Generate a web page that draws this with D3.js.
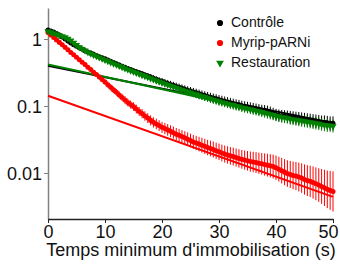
<!DOCTYPE html>
<html><head><meta charset="utf-8">
<script src="https://cdn.jsdelivr.net/npm/d3@7"></script>
<style>body{margin:0;background:#fff}svg{display:block;font-family:"Liberation Sans",Arial,sans-serif}</style>
</head><body><svg id="c" width="340" height="265"></svg>
<script>
const times = d3.range(0, 50.001, 0.5);
const seriesNames = ["Contrôle", "Myrip-pARNi", "Restauration"];
const controle = [1.36,1.32,1.27,1.21,1.15,1.07,1.0,0.93,0.87,0.82,0.78,0.74,0.71,0.67,0.64,0.615,0.59,0.565,0.545,0.525,0.505,
0.485,0.465,0.445,0.428,0.41,0.393,0.378,0.364,0.35,0.337,0.325,0.313,0.302,0.291,0.281,0.27,0.26,0.25,0.241,0.233,
0.225,0.217,0.21,0.203,0.196,0.19,0.184,0.178,0.172,0.167,0.162,0.157,0.152,0.147,0.143,0.139,0.135,0.131,0.128,0.124,
0.121,0.118,0.115,0.112,0.109,0.106,0.104,0.101,0.099,0.097,0.095,0.093,0.091,0.089,0.087,0.086,0.084,0.081,0.077,0.074,
0.072,0.071,0.07,0.069,0.068,0.067,0.066,0.065,0.064,0.063,0.062,0.061,0.06,0.059,0.058,0.057,0.057,0.056,0.055,0.055];
const myrip = [1.25,1.15,1.05,0.97,0.89,0.82,0.75,0.69,0.63,0.58,0.535,0.49,0.45,0.415,0.38,0.35,0.32,0.295,0.27,0.248,0.228,
0.208,0.19,0.174,0.16,0.146,0.134,0.123,0.113,0.105,0.098,0.09,0.083,0.077,0.071,0.066,0.061,0.057,0.054,0.051,0.048,
0.046,0.044,0.042,0.04,0.038,0.0365,0.035,0.0335,0.032,0.0305,0.029,0.028,0.027,0.026,0.025,0.024,0.0232,0.0224,0.0215,0.0207,
0.0199,0.0192,0.0186,0.018,0.0176,0.017,0.0165,0.016,0.0156,0.0152,0.0148,0.0146,0.0143,0.014,0.0137,0.0134,0.0131,0.0128,0.0125,0.012,
0.0114,0.0108,0.0103,0.0098,0.0095,0.0092,0.009,0.0087,0.0084,0.008,0.0077,0.0075,0.0072,0.0069,0.0066,0.0063,0.006,0.0057,0.0055,0.0053];
const restauration = [1.30,1.26,1.22,1.18,1.14,1.1,1.06,1.01,0.95,0.88,0.81,0.75,0.71,0.67,0.635,0.605,0.578,0.553,0.53,0.508,0.487,
0.467,0.448,0.43,0.413,0.396,0.38,0.365,0.351,0.338,0.325,0.313,0.301,0.29,0.279,0.269,0.259,0.249,0.24,0.231,0.223,
0.215,0.208,0.201,0.194,0.187,0.181,0.175,0.169,0.164,0.159,0.154,0.149,0.144,0.14,0.136,0.132,0.128,0.124,0.121,0.117,
0.114,0.111,0.108,0.105,0.103,0.1,0.098,0.095,0.093,0.091,0.089,0.087,0.085,0.083,0.081,0.079,0.077,0.075,0.073,0.071,
0.07,0.068,0.067,0.066,0.064,0.063,0.062,0.061,0.06,0.059,0.058,0.057,0.056,0.055,0.054,0.053,0.052,0.051,0.051,0.05];
// error bars: log10 half-width (decades)
const controleErr = [0.01,0.01,0.012,0.012,0.013,0.014,0.015,0.016,0.017,0.018,0.019,0.02,0.021,0.022,0.022,0.023,0.024,0.025,0.026,0.027,0.028,
0.029,0.03,0.031,0.032,0.033,0.034,0.035,0.036,0.037,0.038,0.04,0.041,0.042,0.043,0.044,0.045,0.046,0.047,0.048,0.05,
0.051,0.052,0.053,0.054,0.055,0.056,0.057,0.058,0.059,0.06,0.061,0.062,0.063,0.064,0.065,0.066,0.066,0.067,0.068,0.069,
0.07,0.07,0.071,0.072,0.072,0.073,0.074,0.074,0.075,0.076,0.076,0.077,0.078,0.078,0.079,0.08,0.081,0.083,0.086,0.088,
0.09,0.091,0.092,0.093,0.094,0.095,0.096,0.097,0.098,0.098,0.099,0.1,0.1,0.101,0.102,0.102,0.103,0.104,0.104,0.105];
const myripErr = [0.01,0.012,0.014,0.015,0.017,0.018,0.02,0.021,0.022,0.024,0.025,0.026,0.028,0.03,0.031,0.033,0.035,0.037,0.039,0.041,0.043,
0.045,0.047,0.049,0.051,0.053,0.055,0.057,0.059,0.061,0.063,0.065,0.067,0.069,0.071,0.073,0.075,0.077,0.079,0.081,0.083,
0.085,0.087,0.089,0.091,0.093,0.095,0.097,0.099,0.101,0.103,0.105,0.107,0.109,0.111,0.113,0.115,0.117,0.119,0.121,0.123,
0.125,0.127,0.129,0.131,0.133,0.135,0.137,0.14,0.143,0.146,0.15,0.153,0.156,0.159,0.162,0.166,0.17,0.174,0.178,0.182,
0.186,0.19,0.194,0.198,0.202,0.206,0.21,0.215,0.22,0.225,0.23,0.235,0.24,0.245,0.25,0.26,0.27,0.28,0.29,0.3];
const restaurationErr = [0.01,0.01,0.011,0.012,0.012,0.013,0.014,0.015,0.015,0.016,0.017,0.018,0.019,0.019,0.02,0.021,0.022,0.022,0.023,0.024,0.025,
0.026,0.027,0.028,0.029,0.03,0.031,0.032,0.033,0.034,0.035,0.036,0.037,0.038,0.039,0.04,0.041,0.042,0.043,0.044,0.045,
0.046,0.047,0.048,0.049,0.05,0.051,0.052,0.053,0.054,0.055,0.056,0.056,0.057,0.058,0.059,0.06,0.06,0.061,0.062,0.063,
0.063,0.064,0.065,0.065,0.066,0.067,0.067,0.068,0.069,0.069,0.07,0.071,0.071,0.072,0.073,0.073,0.074,0.075,0.076,0.078,
0.08,0.081,0.082,0.083,0.084,0.085,0.086,0.087,0.088,0.088,0.089,0.09,0.091,0.091,0.092,0.093,0.093,0.094,0.095,0.095];
// exponential fits: value at t=0 and t=50
const fitTimes = [0, 50];
const controleFit = [0.40, 0.056];
const myripFit = [0.142, 0.0044];
const restaurationFit = [0.415, 0.050];
const xTicks = [0, 10, 20, 30, 40, 50];
const yTicks = [0.01, 0.1, 1];
const yTickLabels = ["0.01", "0.1", "1"];
const xTitle = "Temps minimum d'immobilisation (s)";

const svg = d3.select("#c");
const x = d3.scaleLinear().domain([0, 50]).range([48, 333]);
const y0 = d3.scaleLog().domain([0.01, 1]).range([173, 39]);
const y = d3.scaleLog().domain([y0.invert(219), y0.invert(8)]).range([219, 8]);

const series = [
  {name: seriesNames[0], vals: controle, err: controleErr, fit: controleFit, color: "#000000", sym: "circle"},
  {name: seriesNames[1], vals: myrip, err: myripErr, fit: myripFit, color: "#ff0000", sym: "circle"},
  {name: seriesNames[2], vals: restauration, err: restaurationErr, fit: restaurationFit, color: "#008000", sym: "tri"}
];

// axes
const yAxis = svg.append("g").attr("transform", "translate(48,0)")
  .call(d3.axisLeft(y).tickValues(yTicks).tickFormat((d, i) => yTickLabels[i]).tickSize(4).tickSizeOuter(0));
yAxis.select(".domain").attr("stroke", "#808080").attr("stroke-width", 1.5);
yAxis.selectAll(".tick line").attr("stroke", "#808080");
yAxis.selectAll(".tick text").attr("font-size", 18).attr("fill", "#111").attr("x", -6).attr("dy", "0.35em")
  .style("font-family", "Liberation Sans, Arial, sans-serif");

const xAxis = svg.append("g").attr("transform", "translate(0,219)")
  .call(d3.axisBottom(x).tickValues(xTicks).tickFormat(d3.format("d")).tickSize(4).tickSizeOuter(0));
xAxis.select(".domain").attr("stroke", "#222").attr("stroke-width", 1.5);
xAxis.selectAll(".tick line").attr("stroke", "#222");
xAxis.selectAll(".tick text").attr("font-size", 18).attr("fill", "#111").attr("y", 6)
  .style("font-family", "Liberation Sans, Arial, sans-serif");
xAxis.selectAll(".tick text").filter(d => d === 50).attr("text-anchor", "end").attr("x", 5);

svg.append("text").attr("x", 191).attr("y", 256).attr("text-anchor", "middle")
  .attr("font-size", 18).attr("fill", "#111").text(xTitle);

// error bars
series.forEach(s => {
  svg.append("g").selectAll("line").data(s.vals).join("line")
    .attr("x1", (d, i) => x(times[i])).attr("x2", (d, i) => x(times[i]))
    .attr("y1", (d, i) => y(d * Math.pow(10, s.err[i])))
    .attr("y2", (d, i) => y(d * Math.pow(10, -s.err[i])))
    .attr("stroke", s.color).attr("stroke-width", 1);
});

// fit lines
const line = d3.line().x(d => x(d[0])).y(d => y(d[1]));
[series[1], series[0], series[2]].forEach(s => {
  svg.append("path").attr("d", line(fitTimes.map((t, i) => [t, s.fit[i]])))
    .attr("fill", "none").attr("stroke", s.color).attr("stroke-width", 2);
});

// markers
const circ = d3.symbol().type(d3.symbolCircle).size(20)();
const tri = d3.symbol().type(d3.symbolTriangle).size(22)();
[series[1], series[0], series[2]].forEach(s => {
  svg.append("g").selectAll("path").data(s.vals).join("path")
    .attr("d", s.sym === "tri" ? tri : circ)
    .attr("transform", (d, i) => `translate(${x(times[i])},${y(d)})` + (s.sym === "tri" ? " rotate(180)" : ""))
    .attr("fill", s.color);
});

// legend
const lg = svg.append("g");
series.forEach((s, i) => {
  const cy = 22 + i * 20;
  lg.append("path").attr("d", s.sym === "tri" ? d3.symbol().type(d3.symbolTriangle).size(26)() : d3.symbol().type(d3.symbolCircle).size(30)())
    .attr("transform", `translate(220,${cy + 1})` + (s.sym === "tri" ? " rotate(180)" : ""))
    .attr("fill", s.color);
  lg.append("text").attr("x", 231).attr("y", cy + 5).attr("font-size", 14).attr("fill", "#111").text(s.name);
});
</script></body></html>
